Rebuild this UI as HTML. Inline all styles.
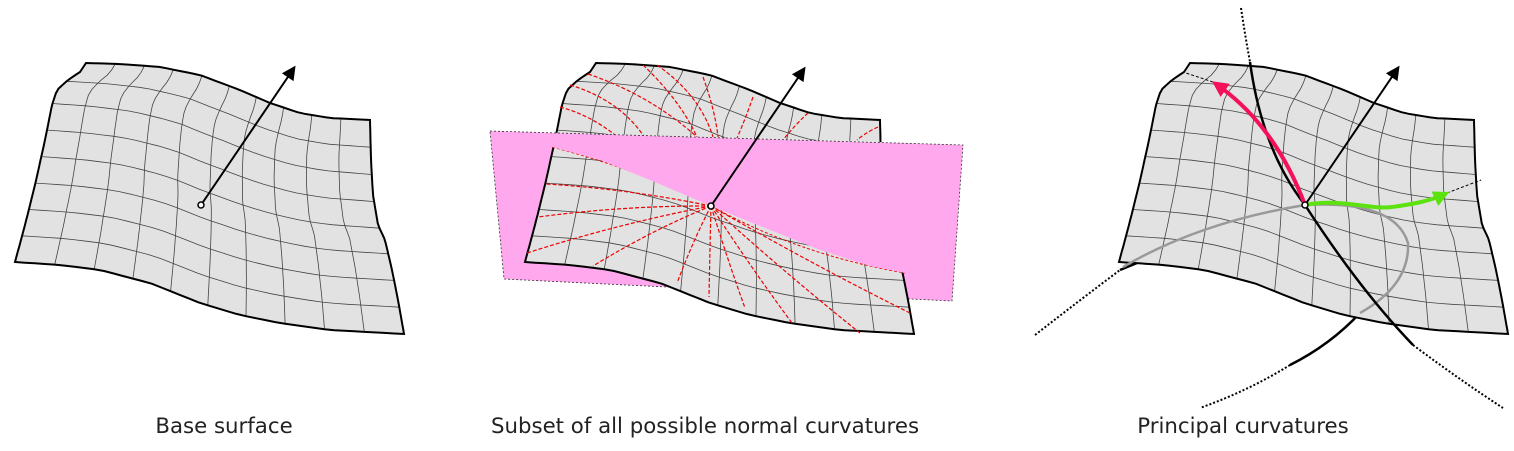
<!DOCTYPE html>
<html><head><meta charset="utf-8"><style>
html,body{margin:0;padding:0;background:#fff;}
svg{display:block}
text{font-family:"DejaVu Sans","Liberation Sans",sans-serif;font-size:21.3px;fill:#222}
</style></head><body>
<svg id="s" width="1514" height="451" viewBox="0 0 1514 451">
<defs>
<marker id="ah" viewBox="0 0 10 10" refX="8" refY="5" markerWidth="7" markerHeight="7" orient="auto"><path d="M0,0 L10,5 L0,10 z" fill="#000"/></marker>
<marker id="ahp" viewBox="0 0 10 10" refX="7" refY="5" markerWidth="4" markerHeight="4" orient="auto"><path d="M0,0 L10,5 L0,10 z" fill="#f5105a"/></marker>
<marker id="ahg" viewBox="0 0 10 10" refX="7" refY="5" markerWidth="4" markerHeight="4" orient="auto"><path d="M0,0 L10,5 L0,10 z" fill="#5be20f"/></marker>
<clipPath id="frontclip"><polygon points="552,147 600,160 650,180 711,206 760,226 820,250 870,266 905,273 935,273 935,350 500,350 500,147"/></clipPath>
<clipPath id="upclip"><polygon points="480,0 980,0 980,145 490,131"/></clipPath>
</defs>
<g id="p1"></g>
<g id="p2"></g>
<g id="p3"></g>
<text x="224" y="433" text-anchor="middle">Base surface</text>
<text x="705" y="433" text-anchor="middle">Subset of all possible normal curvatures</text>
<text x="1243" y="433" text-anchor="middle">Principal curvatures</text>
</svg>
<script>
const NS="http://www.w3.org/2000/svg";
const topE=[[86,63],[120,64],[160,67],[200,75],[240,90],[270,103],[300,113],[330,118],[370,120]];
const botE=[[15,262],[60,265],[100,270],[150,283],[200,303],[240,315],[280,323],[330,330],[404,334]];
const leftE=[[86,63],[80,72],[68,80],[57,90],[52,105],[45,140],[35,185],[25,225],[15,262]];
const rightE=[[370,120],[371,160],[373,195],[378,225],[385,240],[392,270],[398,300],[404,334]];
function samp(pts,t){let L=[0];for(let i=1;i<pts.length;i++)L.push(L[i-1]+Math.hypot(pts[i][0]-pts[i-1][0],pts[i][1]-pts[i-1][1]));
 const d=t*L[L.length-1];for(let i=1;i<pts.length;i++){if(d<=L[i]||i==pts.length-1){const f=(d-L[i-1])/(L[i]-L[i-1]||1);return[pts[i-1][0]+f*(pts[i][0]-pts[i-1][0]),pts[i-1][1]+f*(pts[i][1]-pts[i-1][1])];}}}
function S(u,v){const T=samp(topE,u),B=samp(botE,u),Lf=samp(leftE,v),R=samp(rightE,v);
 const c00=topE[0],c10=topE[topE.length-1],c01=botE[0],c11=botE[botE.length-1];
 return [0,1].map(k=>(1-v)*T[k]+v*B[k]+(1-u)*Lf[k]+u*R[k]-((1-u)*(1-v)*c00[k]+u*(1-v)*c10[k]+(1-u)*v*c01[k]+u*v*c11[k]));}
function el(parent,tag,attrs){const e=document.createElementNS(NS,tag);for(const k in attrs)e.setAttribute(k,attrs[k]);parent.appendChild(e);return e;}
function outline(){let p=[];for(let i=0;i<=40;i++)p.push(S(i/40,0));for(let i=0;i<=40;i++)p.push(S(1,i/40));for(let i=40;i>=0;i--)p.push(S(i/40,1));for(let i=40;i>=0;i--)p.push(S(0,i/40));return p;}
function pstr(p,dx){return p.map((q,i)=>(i?'L':'M')+(q[0]+dx).toFixed(1)+','+q[1].toFixed(1)).join('');}
function surface(g,dx){
 const o=el(g,'path',{d:pstr(outline(),dx)+'Z',fill:'#e2e2e2',stroke:'none'});
 
 
 for(let i=1;i<10;i++){let p=[];for(let j=0;j<=30;j++)p.push(S(i/10,j/30));
  const l=el(g,'path',{d:pstr(p,dx),fill:'none',stroke:'#444',"stroke-width":0.8});
  
  }
 for(let i=1;i<8;i++){let p=[];for(let j=0;j<=30;j++)p.push(S(j/30,i/8));
  const l=el(g,'path',{d:pstr(p,dx),fill:'none',stroke:'#444',"stroke-width":0.8});
  
  }
 const b=el(g,'path',{d:pstr(outline(),dx)+'Z',fill:'none',stroke:'#000',"stroke-width":2});
 
 
}
function normal(g,x,y){const a=el(g,'line',{x1:x,y1:y,x2:x+93,y2:y-137,stroke:'#000',"stroke-width":2,"marker-end":'url(#ah)'});
 
 }
function dot(g,x,y){const c=el(g,'circle',{cx:x,cy:y,r:3,fill:'#fff',stroke:'#000',"stroke-width":1.5});
 
 }
const g1=document.getElementById('p1');surface(g1,0);normal(g1,201,205);dot(g1,201,205);
const g2=document.getElementById('p2');
const up=el(g2,'g',{"clip-path":'url(#upclip)'});surface(up,510);
const upCurves=["M588,74 Q650,95 697,137","M570,85 Q620,100 645,138","M560,107 Q590,115 615,135","M643,65 Q680,100 697,137","M657,65 Q700,95 713,137","M703,77 Q715,110 718,137","M753,97 Q745,120 737,138","M808,113 Q795,125 783,140","M878,127 Q865,133 857,140"];
upCurves.forEach(d=>{const l=el(up,'path',{d:d,fill:'none',stroke:'#e00',"stroke-width":1.2,"stroke-dasharray":'4,2'});
 
 });
const plane=el(g2,'polygon',{points:'490,131 963,145 952,301 504,279',fill:'#ffa8ee',stroke:'#333',"stroke-width":0.8,"stroke-dasharray":'2,2'});


const fr=el(g2,'g',{"clip-path":'url(#frontclip)'});surface(fr,510);
const cut=el(fr,'path',{d:'M552,147 Q640,170 711,206 Q800,255 905,273',fill:'none',stroke:'#e00',"stroke-width":1,"stroke-dasharray":'3,2'});


const ends=[[546,184],[538,217],[527,253],[593,266],[677,283],[709,297],[745,308],[792,323],[860,333],[910,313]];
ends.forEach(e=>{const mx=(711+e[0])/2,my=(206+e[1])/2+((e[0]<711)?-6:4);
 const l=el(g2,'path',{d:`M711,206 Q${mx},${my} ${e[0]},${e[1]}`,fill:'none',stroke:'#e00',"stroke-width":1.2,"stroke-dasharray":'4,2'});
 
 });
normal(g2,711,206);dot(g2,711,206);
const g3=document.getElementById('p3');
function ln(d,st,w,da,name){const l=el(g3,'path',{d:d,fill:'none',stroke:st,"stroke-width":w});if(da)l.setAttribute('stroke-dasharray',da);
 
 return l;}
ln('M1241,8 Q1245,35 1250,62','#000',2,'2,2','max-curve-extension');
ln('M1035,335 Q1080,300 1120,270','#000',2,'2,2','min-curve-extension');
ln('M1290,365 Q1250,390 1200,408','#000',2,'2,2','min-curve-extension');
ln('M1413,345 Q1460,380 1503,408','#000',2,'2,2','max-curve-extension');
ln('M1120,270 L1137,263','#000',2.5,null,'min-curve-back');
ln('M1360,313 Q1330,345 1290,365','#000',2.5,null,'min-curve-back');
surface(g3,1104);
ln('M1123,267 Q1200,222 1305,205 Q1395,200 1408,243 Q1410,285 1360,313','#999',2.5,null,'min-curvature-section');
ln('M1250,62 Q1262,150 1305,205 Q1360,290 1413,345','#000',2.5,null,'max-curvature-section');
ln('M1213,82 L1183,72','#000',1,'3,2','max-direction-extension');
ln('M1447,193 L1481,180','#000',1,'3,2','min-direction-extension');
const pa=ln('M1305,205 Q1275,125 1216,84','#f5105a',4,null,'max-principal-direction');pa.setAttribute('marker-end','url(#ahp)');
const ga=ln('M1305,205 C1340,198 1370,210 1392,207 S1430,201 1445,194','#5be20f',4,null,'min-principal-direction');ga.setAttribute('marker-end','url(#ahg)');
normal(g3,1305,205);dot(g3,1305,205);
</script>
</body></html>
